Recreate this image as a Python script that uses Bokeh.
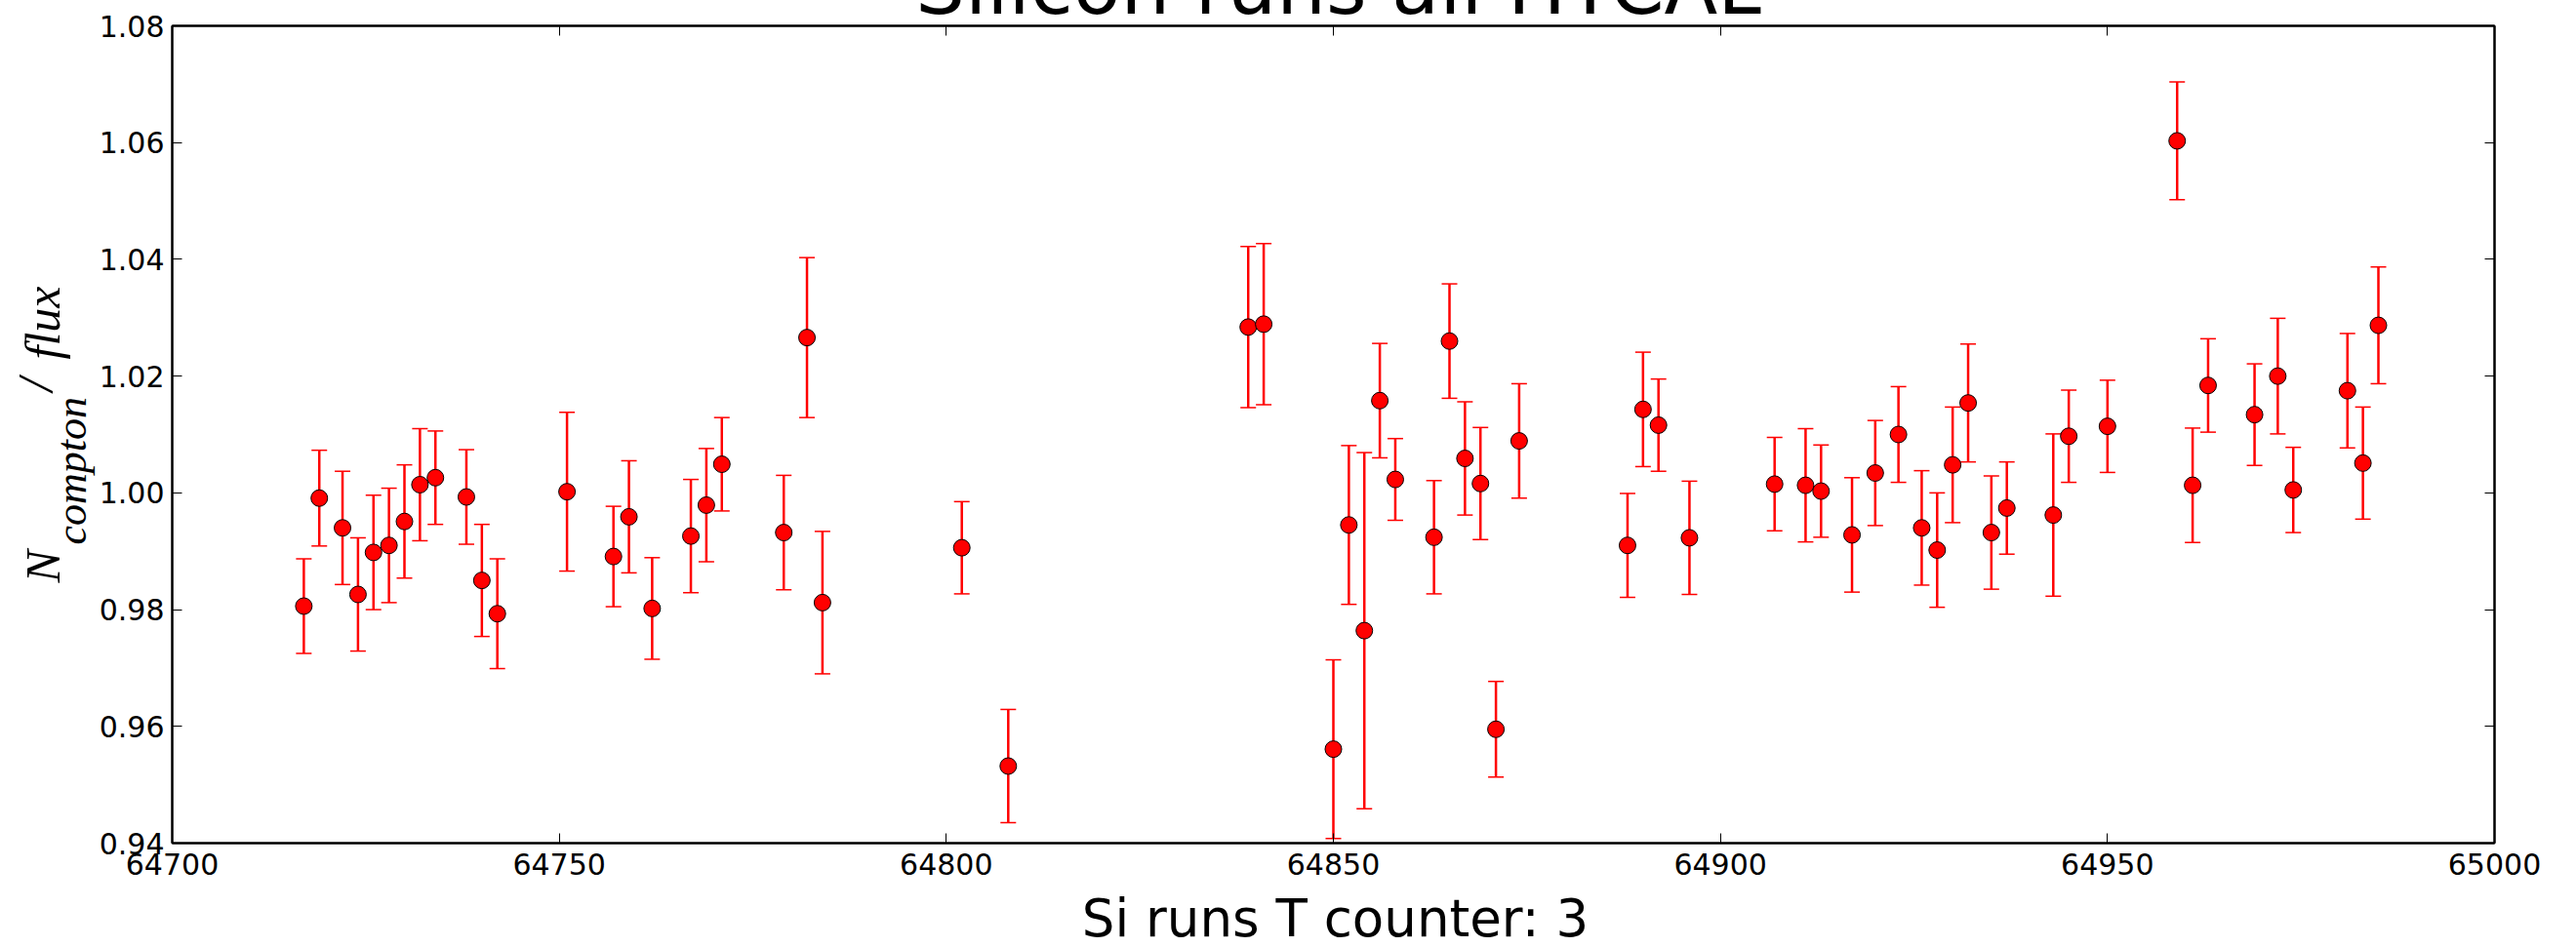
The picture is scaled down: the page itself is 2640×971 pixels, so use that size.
import math
from bokeh.plotting import figure
from bokeh.models import (ColumnDataSource, Whisker, TeeHead, LinearAxis, Label,
                          Range1d, FixedTicker, PrintfTickFormatter, CustomJSTickFormatter)
from bokeh.embed import file_html
from bokeh.resources import INLINE

# ---------------- data ----------------
runs = [64717, 64719, 64722, 64724, 64726, 64728, 64730, 64732, 64734, 64738, 64740,
        64742, 64751, 64757, 64759, 64762, 64767, 64769, 64771, 64779, 64782, 64784,
        64802, 64808, 64839, 64841, 64850, 64852, 64854, 64856, 64858, 64863, 64865,
        64867, 64869, 64871, 64874, 64888, 64890, 64892, 64896,
        64907, 64911, 64913, 64917, 64920, 64923, 64926, 64928, 64930, 64932, 64935,
        64937, 64943, 64945, 64950, 64959, 64961, 64963, 64969, 64972, 64974, 64981,
        64983, 64985]

ratio = [0.9806, 0.9991, 0.9940, 0.9826, 0.9898, 0.9910, 0.9951, 1.0014, 1.0026, 0.9993, 0.9850,
         0.9793, 1.0002, 0.9891, 0.9959, 0.9802, 0.9926, 0.9979, 1.0049, 0.9932, 1.0266, 0.9812,
         0.9906, 0.9532, 1.0284, 1.0289, 0.9561, 0.9945, 0.9764, 1.0158, 1.0023, 0.9924, 1.0260,
         1.0059, 1.0016, 0.9595, 1.0089, 0.9910, 1.0143, 1.0116, 0.9923,
         1.0015, 1.0013, 1.0003, 0.9928, 1.0034, 1.0100, 0.9940, 0.9902, 1.0048, 1.0154, 0.9932,
         0.9974, 0.9962, 1.0097, 1.0114, 1.0603, 1.0013, 1.0184, 1.0134, 1.0200, 1.0005, 1.0175,
         1.0051, 1.0287]

err = [0.0081, 0.0082, 0.0097, 0.0097, 0.0098, 0.0098, 0.0097, 0.0096, 0.0080, 0.0081, 0.0096,
       0.0094, 0.0136, 0.0086, 0.0096, 0.0087, 0.0097, 0.0097, 0.0080, 0.0098, 0.0137, 0.0122,
       0.0079, 0.0097, 0.0138, 0.0138, 0.0153, 0.0136, 0.0305, 0.0098, 0.0070, 0.0097, 0.0098,
       0.0097, 0.0096, 0.0082, 0.0098, 0.0089, 0.0098, 0.0079, 0.0097,
       0.0080, 0.0097, 0.0079, 0.0098, 0.0090, 0.0082, 0.0098, 0.0098, 0.0099, 0.0101, 0.0097,
       0.0079, 0.0139, 0.0079, 0.0079, 0.0101, 0.0098, 0.0080, 0.0087, 0.0099, 0.0073, 0.0098,
       0.0096, 0.0100]

x_ticks = [64700, 64750, 64800, 64850, 64900, 64950, 65000]
y_ticks = [0.94, 0.96, 0.98, 1.00, 1.02, 1.04, 1.06, 1.08]

title_text = "Silicon runs all HYCAL"
x_label = "Si runs T counter: 3"
y_label_parts = ["N", "compton", "/", "flux"]     # N_{compton} / flux

X0, X1 = 64700, 65000
Y0, Y1 = 0.94, 1.08

# ---------------- layout (window pixels) ----------------
WIN_W, WIN_H = 2640, 971
SHIFT = 500                      # canvas part hidden above the window (title is cut there)
FL, FR, FT, FB = 176, 2556, 26, 864   # frame edges in window px


def xd(px):
    return X0 + (px - FL) * (X1 - X0) / (FR - FL)


def yd(py):
    return Y1 - (py - FT) * (Y1 - Y0) / (FB - FT)


src = ColumnDataSource(dict(
    x=runs, y=ratio,
    lo=[r - e for r, e in zip(ratio, err)],
    hi=[r + e for r, e in zip(ratio, err)],
))

p = figure(width=WIN_W, height=WIN_H + SHIFT, output_backend="svg", toolbar_location=None,
           x_range=Range1d(X0, X1), y_range=Range1d(Y0, Y1),
           min_border_left=FL, min_border_right=WIN_W - FR,
           min_border_top=FT + SHIFT, min_border_bottom=WIN_H - FB,
           background_fill_color="white", border_fill_color="white")
p.styles = {"margin-top": f"-{SHIFT}px"}

p.xgrid.visible = False
p.ygrid.visible = False
p.outline_line_color = "black"
p.outline_line_width = 2

TICK_FONT = "DejaVu Sans"


def style_axis(ax, ticks):
    ax.ticker = FixedTicker(ticks=ticks)
    ax.minor_tick_line_color = None
    ax.major_tick_in = 10
    ax.major_tick_out = 0
    ax.major_tick_line_width = 1
    ax.major_tick_line_color = "black"
    ax.axis_line_color = "black"
    ax.axis_line_width = 2
    ax.major_label_text_font = TICK_FONT
    ax.major_label_text_font_size = "30px"
    ax.major_label_text_color = "black"


style_axis(p.xaxis[0], x_ticks)
style_axis(p.yaxis[0], y_ticks)
p.xaxis.major_label_standoff = 10
p.yaxis.major_label_standoff = 8
p.yaxis.formatter = PrintfTickFormatter(format="%.2f")
p.xaxis.formatter = PrintfTickFormatter(format="%d")

blank = CustomJSTickFormatter(code="return ''")
top_ax = LinearAxis(formatter=blank, major_label_standoff=0)
right_ax = LinearAxis(formatter=blank, major_label_standoff=0)
style_axis(top_ax, x_ticks)
style_axis(right_ax, y_ticks)
top_ax.major_label_text_font_size = "1px"
right_ax.major_label_text_font_size = "1px"
p.add_layout(top_ax, "above")
p.add_layout(right_ax, "right")

# error bars
wh = Whisker(source=src, base="x", upper="hi", lower="lo",
             line_color="red", line_width=2.5,
             upper_head=TeeHead(size=16, line_color="red", line_width=1.5),
             lower_head=TeeHead(size=16, line_color="red", line_width=1.5))
wh.level = "underlay"
p.add_layout(wh)

# markers
p.scatter("x", "y", source=src, size=17, marker="circle",
          fill_color="red", line_color="black", line_width=1)


def add_text(text, px, py, size, font, style="normal", angle=0.0):
    """Text whose centre line passes through window pixel (px, py).
    Placed in the (hidden) upper side panel so it is not clipped to the frame."""
    p.add_layout(Label(x=xd(px), y=yd(py), text=text, angle=angle,
                       text_align="center" if angle == 0 else "left",
                       text_baseline="middle",
                       text_font=font, text_font_style=style,
                       text_font_size=f"{size}px", text_color="black"), "above")


# title: baseline at window y=14 (cut by the top edge as in the reference)
add_text(title_text, 1371, 14 - 28, 80, "DejaVu Sans")
# x axis label: baseline at window y=959
add_text(x_label, 1368, 959 - 18, 53, "DejaVu Sans")

# y axis label N_{compton}/flux, rotated, read bottom to top
SERIF = "Liberation Serif"
ROT = math.pi / 2
add_text(y_label_parts[0], 60 - 17, 597, 50, SERIF, "italic", ROT)   # N
add_text(y_label_parts[1], 88 - 15, 558, 44, SERIF, "italic", ROT)   # compton (subscript)
add_text(y_label_parts[2], 52 - 17, 401, 50, SERIF, "italic", ROT)   # /
add_text(y_label_parts[3], 60 - 17, 368, 50, SERIF, "italic", ROT)   # flux

open("out.html", "w").write(file_html(p, INLINE))
